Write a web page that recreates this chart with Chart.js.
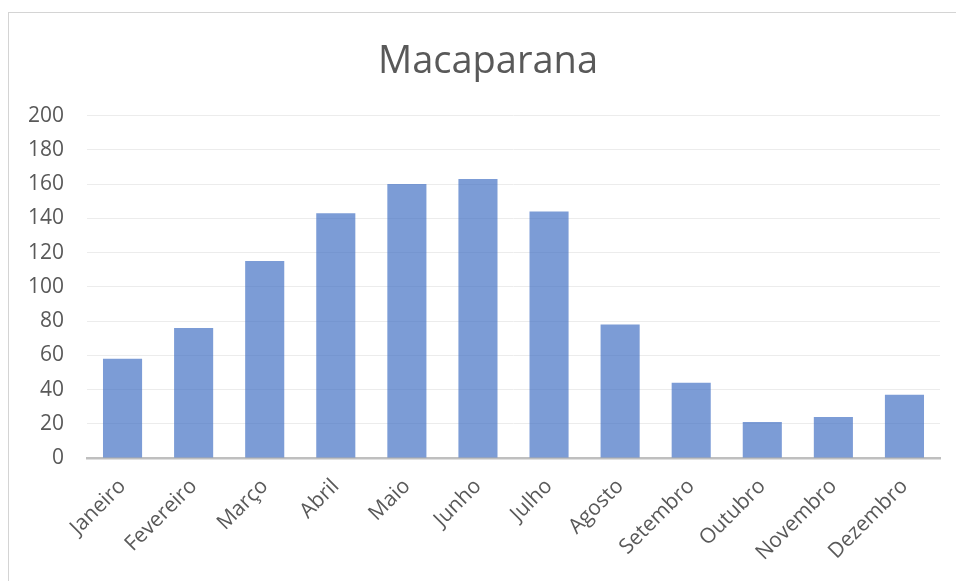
<!DOCTYPE html>
<html>
<head>
<meta charset="utf-8">
<script src="https://cdn.jsdelivr.net/npm/chart.js@4/dist/chart.umd.min.js"></script>
<style>
  html, body { margin: 0; padding: 0; background: #fff; overflow: hidden; }
  #frame { position: absolute; left: 8px; top: 12px; width: 1200px; height: 900px; border: 1px solid #d4d4d4; box-sizing: border-box; }
  #wrap { position: absolute; left: 0; top: 0; width: 956px; height: 581px; }
</style>
</head>
<body>
<div id="frame"></div>
<div id="wrap"><canvas id="c" width="956" height="581"></canvas></div>
<script>
const title = "Macaparana";
const categories = ["Janeiro", "Fevereiro", "Março", "Abril", "Maio", "Junho", "Julho", "Agosto", "Setembro", "Outubro", "Novembro", "Dezembro"];
const values = [58, 76, 115, 143, 160, 163, 144, 78, 44, 21, 24, 37];
const yTicks = [0, 20, 40, 60, 80, 100, 120, 140, 160, 180, 200];

const FONT = "'Open Sans', 'DejaVu Sans', sans-serif";
const TEXT = "#595959";

// Shift the title box so it is centred over the whole frame (like the reference)
const titleShift = {
  id: 'titleShift',
  afterLayout(chart) {
    if (chart.titleBlock) {
      chart.titleBlock.left = 36;
    }
  }
};

new Chart(document.getElementById('c'), {
  type: 'bar',
  data: {
    labels: categories,
    datasets: [{
      data: values,
      backgroundColor: 'rgba(68,114,196,0.70)',
      borderWidth: 0,
      barPercentage: 0.55,
      categoryPercentage: 1.0
    }]
  },
  plugins: [titleShift],
  options: {
    responsive: false,
    animation: false,
    events: [],
    layout: { padding: { left: 0, right: 16, top: 0, bottom: 0 } },
    plugins: {
      legend: { display: false },
      tooltip: { enabled: false },
      title: {
        display: true,
        text: title,
        color: TEXT,
        font: { family: FONT, size: 38, weight: 'normal', lineHeight: 1.2 },
        padding: { top: 39, bottom: 31 }
      }
    },
    scales: {
      x: {
        grid: { display: false, drawTicks: false },
        border: { display: true, color: '#bfbfbf', width: 2.5 },
        ticks: {
          color: TEXT,
          font: { family: FONT, size: 21 },
          maxRotation: 45,
          minRotation: 45,
          padding: 16,
          autoSkip: false
        },
        afterFit: function (scale) { scale.height = 123; }
      },
      y: {
        min: 0,
        max: 200,
        afterBuildTicks: function (scale) { scale.ticks = yTicks.map(v => ({ value: v })); },
        grid: { color: '#ececec', lineWidth: 1, drawTicks: false },
        border: { display: false },
        ticks: {
          color: TEXT,
          font: { family: FONT, size: 21 },
          padding: 23
        },
        afterFit: function (scale) { scale.width = 87; }
      }
    }
  }
});
</script>
</body>
</html>
